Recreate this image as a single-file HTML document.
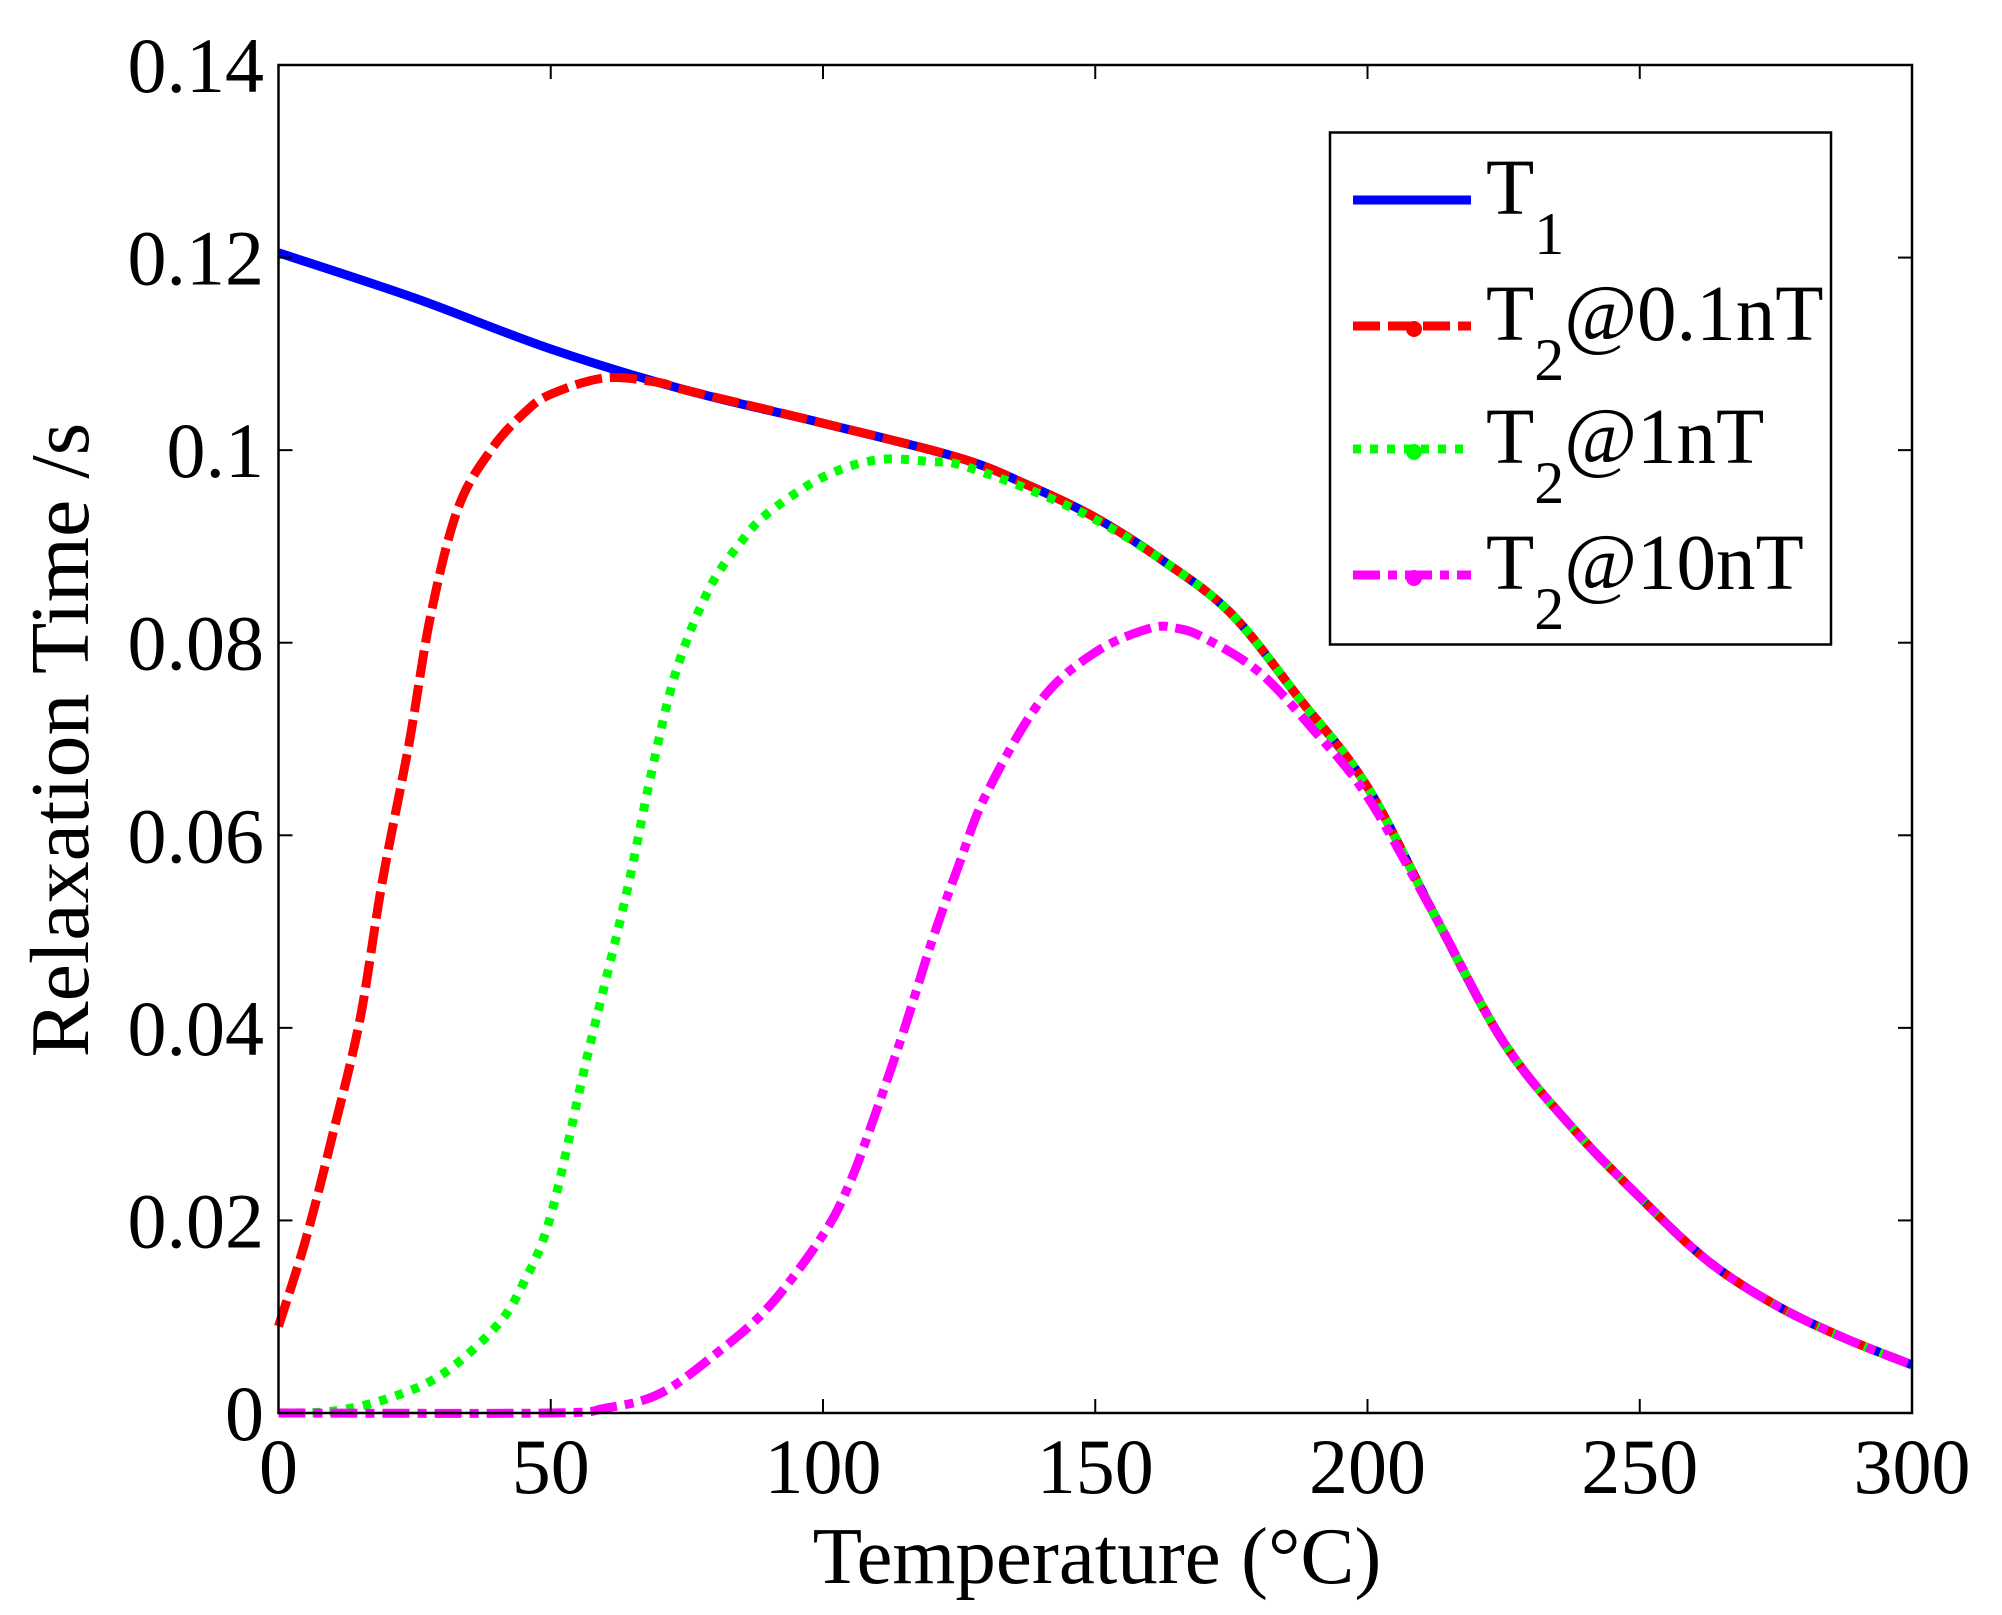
<!DOCTYPE html>
<html><head><meta charset="utf-8"><style>
html,body{margin:0;padding:0;background:#fff}
svg{display:block;font-family:"Liberation Serif","Times New Roman",serif}
</style></head><body>
<svg id="chart" width="2002" height="1615" viewBox="0 0 2002 1615" xmlns="http://www.w3.org/2000/svg">
<rect width="2002" height="1615" fill="#fff"/>
<g id="plot"></g>
<g id="axes"></g>
<text x="1097" y="1583" font-size="81" text-anchor="middle">Temperature (°C)</text>
<text transform="translate(88,740) rotate(-90)" font-size="84" text-anchor="middle">Relaxation Time /s</text>
<g id="legend"></g>
</svg>
<script>
const xTicks = [0, 50, 100, 150, 200, 250, 300];
const yTicks = [0, 0.02, 0.04, 0.06, 0.08, 0.1, 0.12, 0.14];
const yTickLabels = ["0", "0.02", "0.04", "0.06", "0.08", "0.1", "0.12", "0.14"];

const t1X = [0, 25, 50, 75, 100, 125, 137.5, 150, 162.5, 175, 187.5, 200, 212.5, 225, 237.5, 250, 262.5, 275, 287.5, 300];
const t1Y = [0.1205, 0.1158, 0.1105, 0.1062, 0.1028, 0.0992, 0.0964, 0.0930, 0.0885, 0.0830, 0.0742, 0.0650, 0.0515, 0.0385, 0.0297, 0.0224, 0.0158, 0.0112, 0.0078, 0.0050];

const t2aX = [0, 5, 10, 15, 19, 24, 28, 33, 39, 45, 50, 60, 70, 75, 100, 125, 137.5, 150, 162.5, 175, 187.5, 200, 212.5, 225, 237.5, 250, 262.5, 275, 287.5, 300];
const t2aY = [0.0090, 0.0180, 0.0290, 0.0410, 0.0550, 0.0696, 0.0830, 0.0940, 0.1000, 0.1038, 0.1058, 0.1075, 0.1070, 0.1062, 0.1028, 0.0992, 0.0964, 0.0930, 0.0885, 0.0830, 0.0742, 0.0650, 0.0515, 0.0385, 0.0297, 0.0224, 0.0158, 0.0112, 0.0078, 0.0050];

const t2bX = [0, 10, 20, 30, 40, 45, 50, 56.7, 63.8, 68.5, 73, 79, 85, 90, 100, 110, 120, 125, 137.5, 150, 162.5, 175, 187.5, 200, 212.5, 225, 237.5, 250, 262.5, 275, 287.5, 300];
const t2bY = [0, 0.0002, 0.0015, 0.0040, 0.0090, 0.0135, 0.0205, 0.0370, 0.0537, 0.0665, 0.0770, 0.0855, 0.0905, 0.0935, 0.0972, 0.0990, 0.0988, 0.0985, 0.0960, 0.0928, 0.0885, 0.0830, 0.0742, 0.0650, 0.0515, 0.0385, 0.0297, 0.0224, 0.0158, 0.0112, 0.0078, 0.0050];

const t2cX = [0, 50, 60, 70, 80, 90, 100, 105, 110, 115, 120, 125, 130, 140, 150, 160, 165, 170, 180, 190, 200, 212.5, 225, 237.5, 250, 262.5, 275, 287.5, 300];
const t2cY = [0, 0, 0.0005, 0.0020, 0.0060, 0.0110, 0.0185, 0.0240, 0.0317, 0.0400, 0.0490, 0.0570, 0.0643, 0.0740, 0.0790, 0.0815, 0.0815, 0.0805, 0.0770, 0.0710, 0.0640, 0.0515, 0.0385, 0.0297, 0.0224, 0.0158, 0.0112, 0.0078, 0.0050];

const seriesNames = ["T1", "T2@0.1nT", "T2@1nT", "T2@10nT"];

const L = 278.5, R = 1912, T = 65, B = 1413;
const xMax = 300, yMax = 0.14;
function sx(v){ return L + (R - L) * v / xMax; }
function sy(v){ return B - (B - T) * v / yMax; }
const NS = "http://www.w3.org/2000/svg";
function mk(tag, parent, attrs){ const e = document.createElementNS(NS, tag); for (const k in attrs) e.setAttribute(k, attrs[k]); parent.appendChild(e); return e; }

function smoothPath(xs, ys){
  const p = xs.map((x, i) => [sx(x), sy(ys[i])]);
  let d = "M" + p[0][0].toFixed(1) + "," + p[0][1].toFixed(1);
  for (let i = 0; i < p.length - 1; i++){
    const p0 = p[Math.max(0, i - 1)], p1 = p[i], p2 = p[i + 1], p3 = p[Math.min(p.length - 1, i + 2)];
    const c1x = p1[0] + (p2[0] - p0[0]) / 6, c1y = p1[1] + (p2[1] - p0[1]) / 6;
    const c2x = p2[0] - (p3[0] - p1[0]) / 6, c2y = p2[1] - (p3[1] - p1[1]) / 6;
    d += " C" + c1x.toFixed(1) + "," + c1y.toFixed(1) + " " + c2x.toFixed(1) + "," + c2y.toFixed(1) + " " + p2[0].toFixed(1) + "," + p2[1].toFixed(1);
  }
  return d;
}

const plot = document.getElementById("plot");
const styles = [
  {c: "#0000ff", dash: null},
  {c: "#ff0000", dash: "27 8"},
  {c: "#00ff00", dash: "8 9"},
  {c: "#ff00ff", dash: "27 8 9 8"}
];
const data = [[t1X, t1Y], [t2aX, t2aY], [t2bX, t2bY], [t2cX, t2cY]];
const lineNames = ["t1-line", "t2-0.1nt-line", "t2-1nt-line", "t2-10nt-line"];
data.forEach((s, i) => {
  const p = mk("path", plot, {d: smoothPath(s[0], s[1]), fill: "none", stroke: styles[i].c, "stroke-width": 9});
  if (styles[i].dash) p.setAttribute("stroke-dasharray", styles[i].dash);
  
  
});

const axes = document.getElementById("axes");
const frame = mk("rect", axes, {x: L, y: T, width: R - L, height: B - T, fill: "none", stroke: "#000", "stroke-width": 2.5});


xTicks.forEach(v => {
  const x = sx(v);
  mk("line", axes, {x1: x, y1: B, x2: x, y2: B - 14, stroke: "#000", "stroke-width": 2});
  mk("line", axes, {x1: x, y1: T, x2: x, y2: T + 14, stroke: "#000", "stroke-width": 2});
  const t = mk("text", axes, {x: x, y: B + 80, "font-size": 78, "text-anchor": "middle"});
  t.textContent = String(v);
  
  
});
yTicks.forEach((v, i) => {
  const y = sy(v);
  mk("line", axes, {x1: L, y1: y, x2: L + 14, y2: y, stroke: "#000", "stroke-width": 2});
  mk("line", axes, {x1: R, y1: y, x2: R - 14, y2: y, stroke: "#000", "stroke-width": 2});
  const t = mk("text", axes, {x: 264, y: y + 27, "font-size": 78, "text-anchor": "end"});
  t.textContent = yTickLabels[i];
  
  
});

const lg = document.getElementById("legend");
mk("rect", lg, {x: 1330, y: 132.5, width: 501, height: 512, fill: "#fff", stroke: "#000", "stroke-width": 2.5});
const rowY = [200, 326, 449, 575];
const labels = [["T", "1", ""], ["T", "2", "@0.1nT"], ["T", "2", "@1nT"], ["T", "2", "@10nT"]];
rowY.forEach((y, i) => {
  const ln = mk("line", lg, {x1: 1353, y1: y, x2: 1471, y2: y, stroke: styles[i].c, "stroke-width": 9});
  if (styles[i].dash) ln.setAttribute("stroke-dasharray", styles[i].dash);
  if (i > 0) mk("circle", lg, {cx: 1414, cy: y + 3, r: 8, fill: styles[i].c});
  const t = mk("text", lg, {x: 1486, y: y + 14, "font-size": 79});
  
  
  const a = mk("tspan", t, {}); a.textContent = labels[i][0];
  const b = mk("tspan", t, {dy: 40, "font-size": 60}); b.textContent = labels[i][1];
  if (labels[i][2]) { const c = mk("tspan", t, {dy: -40}); c.textContent = labels[i][2]; }
});
</script>
</body></html>
